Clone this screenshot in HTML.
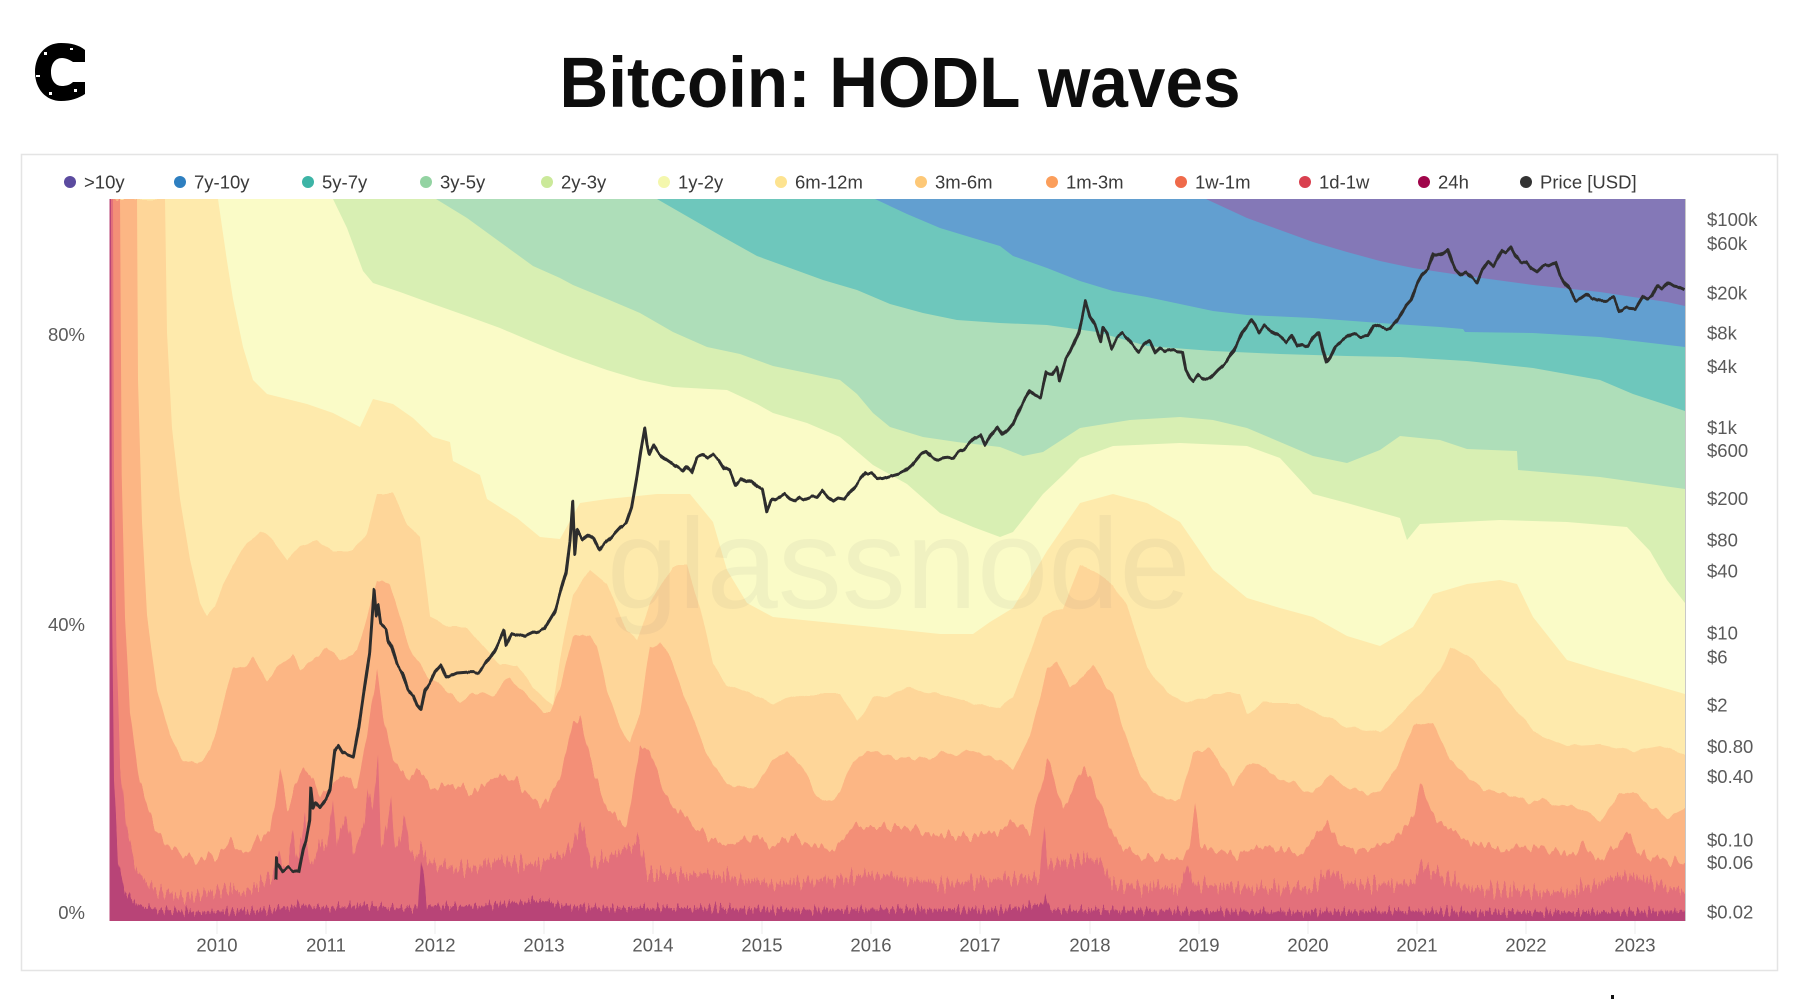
<!DOCTYPE html>
<html><head><meta charset="utf-8"><style>
html,body{margin:0;padding:0;background:#fff;}
svg{display:block;}
text{font-family:"Liberation Sans",Arial,sans-serif;}
</style></head><body>
<svg width="1800" height="999" viewBox="0 0 1800 999" xmlns="http://www.w3.org/2000/svg">
<defs>
<clipPath id="pc"><rect x="109.5" y="199" width="1575.5" height="722"/></clipPath>
<filter id="j1" filterUnits="userSpaceOnUse" x="100" y="180" width="1600" height="790" color-interpolation-filters="sRGB">
<feTurbulence type="fractalNoise" baseFrequency="0.05 0" numOctaves="2" seed="2" result="t"/>
<feColorMatrix in="t" type="matrix" values="0 0 0 0 0.5  0 1 0 0 0  0 0 0 0 0.5  0 0 0 0 1" result="m"/>
<feDisplacementMap in="SourceGraphic" in2="m" scale="10" xChannelSelector="R" yChannelSelector="G"/>
</filter>
<filter id="j2" filterUnits="userSpaceOnUse" x="100" y="180" width="1600" height="790" color-interpolation-filters="sRGB">
<feTurbulence type="fractalNoise" baseFrequency="0.08 0" numOctaves="2" seed="5" result="t"/>
<feColorMatrix in="t" type="matrix" values="0 0 0 0 0.5  0 1 0 0 0  0 0 0 0 0.5  0 0 0 0 1" result="m"/>
<feDisplacementMap in="SourceGraphic" in2="m" scale="16" xChannelSelector="R" yChannelSelector="G"/>
</filter>
<filter id="j3" filterUnits="userSpaceOnUse" x="100" y="180" width="1600" height="790" color-interpolation-filters="sRGB">
<feTurbulence type="fractalNoise" baseFrequency="0.15 0" numOctaves="2" seed="9" result="t"/>
<feColorMatrix in="t" type="matrix" values="0 0 0 0 0.5  0 1 0 0 0  0 0 0 0 0.5  0 0 0 0 1" result="m"/>
<feDisplacementMap in="SourceGraphic" in2="m" scale="24" xChannelSelector="R" yChannelSelector="G"/>
</filter>
<filter id="j4" filterUnits="userSpaceOnUse" x="100" y="180" width="1600" height="790" color-interpolation-filters="sRGB">
<feTurbulence type="fractalNoise" baseFrequency="0.3 0" numOctaves="2" seed="13" result="t"/>
<feColorMatrix in="t" type="matrix" values="0 0 0 0 0.5  0 1 0 0 0  0 0 0 0 0.5  0 0 0 0 1" result="m"/>
<feDisplacementMap in="SourceGraphic" in2="m" scale="40" xChannelSelector="R" yChannelSelector="G"/>
</filter>
<filter id="j5" filterUnits="userSpaceOnUse" x="100" y="180" width="1600" height="790" color-interpolation-filters="sRGB">
<feTurbulence type="fractalNoise" baseFrequency="0.35 0" numOctaves="2" seed="21" result="t"/>
<feColorMatrix in="t" type="matrix" values="0 0 0 0 0.5  0 1 0 0 0  0 0 0 0 0.5  0 0 0 0 1" result="m"/>
<feDisplacementMap in="SourceGraphic" in2="m" scale="24" xChannelSelector="R" yChannelSelector="G"/>
</filter>
<filter id="jp" filterUnits="userSpaceOnUse" x="100" y="180" width="1600" height="790" color-interpolation-filters="sRGB">
<feTurbulence type="fractalNoise" baseFrequency="0.12 0" numOctaves="2" seed="31" result="t"/>
<feColorMatrix in="t" type="matrix" values="0 0 0 0 0.5  0 1 0 0 0  0 0 0 0 0.5  0 0 0 0 1" result="m"/>
<feDisplacementMap in="SourceGraphic" in2="m" scale="6" xChannelSelector="R" yChannelSelector="G"/>
</filter>
</defs>

<!-- logo -->
<path d="M85,62 L85,50 C79,45 71,43 61,43 C45,43 35,56 35,72 C35,89 46,101 61,101 C71,101 79,98 85,94 L85,82 L73,82 C70,85 66,86 62,86 C55,86 51,80 51,72 C51,64 55,58 62,58 C66,58 70,60 73,62 Z" fill="#000"/>
<rect x="44" y="52" width="3" height="3" fill="#fff"/>
<rect x="36" y="75" width="4" height="2" fill="#fff"/>
<rect x="49" y="92" width="3" height="3" fill="#fff"/>
<rect x="74" y="89" width="3" height="3" fill="#fff"/>
<rect x="70" y="48" width="3" height="2" fill="#fff"/>

<!-- title -->
<text x="900" y="107" text-anchor="middle" font-size="71" font-weight="bold" fill="#0d0d0d" textLength="681" lengthAdjust="spacingAndGlyphs">Bitcoin: HODL waves</text>

<!-- panel -->
<rect x="21.5" y="154.5" width="1756" height="816" fill="#fff" stroke="#e4e4e4" stroke-width="1.5"/>

<!-- legend -->
<g font-size="18.5" fill="#3a3a3a">
<circle cx="70" cy="182" r="6" fill="#5b4b9f"/><text x="84" y="188.5">&gt;10y</text>
<circle cx="180" cy="182" r="6" fill="#2e7fc0"/><text x="194" y="188.5">7y-10y</text>
<circle cx="308" cy="182" r="6" fill="#3db4a6"/><text x="322" y="188.5">5y-7y</text>
<circle cx="426" cy="182" r="6" fill="#93d3a2"/><text x="440" y="188.5">3y-5y</text>
<circle cx="547" cy="182" r="6" fill="#cbe99a"/><text x="561" y="188.5">2y-3y</text>
<circle cx="664" cy="182" r="6" fill="#f4f7ad"/><text x="678" y="188.5">1y-2y</text>
<circle cx="781" cy="182" r="6" fill="#fde390"/><text x="795" y="188.5">6m-12m</text>
<circle cx="921" cy="182" r="6" fill="#fdc877"/><text x="935" y="188.5">3m-6m</text>
<circle cx="1052" cy="182" r="6" fill="#fb9e5b"/><text x="1066" y="188.5">1m-3m</text>
<circle cx="1181" cy="182" r="6" fill="#ef6a4a"/><text x="1195" y="188.5">1w-1m</text>
<circle cx="1305" cy="182" r="6" fill="#d9404f"/><text x="1319" y="188.5">1d-1w</text>
<circle cx="1424" cy="182" r="6" fill="#a0054a"/><text x="1438" y="188.5">24h</text>
<circle cx="1526" cy="182" r="6" fill="#333"/><text x="1540" y="188.5">Price [USD]</text>
</g>

<!-- plot -->
<g clip-path="url(#pc)">
<rect x="109.5" y="199" width="1580" height="722" fill="#8478b7"/>
<polygon fill="#629fd0" points="109.5,199 1206,199 1247,218 1280,230 1313,242 1347,252 1380,261 1413,268 1467,276 1533,285 1600,292 1633,297 1667,302 1685,306 1690,306 1690,960 109.5,960"/>
<polygon fill="#6ec7bc" points="109.5,199 875,199 907,214 940,228 973,238 1000,246 1013,256 1047,268 1080,281 1113,291 1147,297 1180,304 1213,311 1247,315 1313,318 1380,323 1440,327 1463,329 1465,332 1533,333 1600,337 1685,347 1690,347 1690,960 109.5,960"/>
<polygon fill="#aedeb9" points="109.5,199 657,199 690,218 723,237 757,256 790,268 823,280 857,290 890,304 923,313 957,320 1000,323 1047,325 1097,332 1147,346 1213,351 1280,354 1347,356 1400,357 1467,361 1533,368 1600,380 1633,394 1685,411 1690,411 1690,960 109.5,960"/>
<polygon fill="#d8efb3" points="109.5,199 436,199 467,218 500,242 533,266 560,278 573,285 607,299 640,313 673,332 707,347 740,354 773,366 807,373 840,380 857,394 873,413 890,427 923,437 957,442 1000,447 1023,456 1043,452 1080,428 1130,420 1180,417 1213,420 1247,428 1280,442 1313,456 1347,463 1380,450 1400,436 1440,440 1467,449 1517,451 1518,470 1600,477 1685,489 1690,489 1690,960 109.5,960"/>
<polygon fill="#fafbc7" points="109.5,199 333,199 347,228 363,271 373,283 400,292 433,304 467,316 500,328 533,342 560,353 573,358 607,370 640,380 673,387 727,390 757,404 773,413 807,423 840,437 873,465 907,484 940,513 973,527 1000,537 1013,532 1043,494 1063,475 1080,458 1113,446 1180,443 1247,446 1280,458 1313,494 1347,503 1400,518 1407,540 1420,524 1500,520 1567,522 1627,527 1650,551 1667,580 1685,603 1690,603 1690,960 109.5,960"/>
<polygon fill="#feeaac" points="109.5,199 218,199 227,261 233,299 243,347 253,380 267,394 287,399 307,404 333,413 360,427 373,399 393,404 413,418 433,437 450,442 453,461 480,475 487,499 517,518 540,537 560,539 580,503 607,499 657,494 690,494 713,522 727,570 747,603 773,617 823,622 873,627 940,634 973,634 990,622 1013,608 1047,551 1080,503 1113,494 1147,503 1180,522 1213,570 1247,598 1280,608 1313,617 1347,636 1380,646 1413,627 1433,594 1467,584 1500,580 1517,584 1533,617 1567,660 1600,670 1633,679 1685,694 1690,694 1690,960 109.5,960"/>
<polygon fill="#fed699" filter="url(#j1)" points="109.5,199 165,199 167,332 172,427 180,499 190,560 200,603 207,617 215,608 223,584 233,565 247,541 260,532 273,541 287,560 300,546 317,541 333,551 353,551 367,532 377,494 393,494 407,522 420,537 430,617 450,627 467,627 483,646 500,665 517,665 533,689 553,703 560,660 573,594 590,570 607,584 627,632 637,641 650,603 673,565 687,565 700,608 713,665 727,684 773,703 807,694 840,694 857,722 873,698 907,689 940,694 973,703 1000,708 1013,698 1043,617 1063,608 1080,565 1093,570 1113,584 1127,608 1147,665 1167,694 1187,703 1213,694 1240,694 1247,712 1263,703 1297,703 1313,712 1347,727 1380,732 1413,703 1440,670 1450,646 1467,656 1500,689 1533,732 1567,746 1600,744 1633,751 1660,746 1685,755 1690,755 1690,960 109.5,960"/>
<polygon fill="#fcb684" filter="url(#j2)" points="109.5,199 137,199 138,380 142,522 147,617 157,689 170,736 183,760 197,765 210,751 223,703 233,670 243,665 253,660 267,679 280,665 293,656 300,670 313,660 327,646 340,660 357,653 367,617 377,580 390,584 400,617 413,656 427,675 440,684 460,703 473,694 493,694 510,679 527,694 543,712 550,712 560,689 573,636 583,632 597,646 607,689 620,727 630,746 640,712 650,646 660,641 673,665 687,703 700,736 713,765 727,784 753,789 773,760 787,751 800,765 813,789 827,803 840,793 853,760 873,751 907,760 940,755 973,751 1000,760 1013,770 1030,736 1047,670 1057,660 1070,689 1080,679 1093,665 1113,694 1133,760 1153,793 1180,803 1193,751 1213,751 1233,784 1253,760 1280,779 1313,793 1330,774 1347,789 1380,793 1400,760 1413,727 1433,722 1450,760 1483,789 1517,798 1550,803 1583,808 1600,822 1617,798 1633,789 1650,808 1667,817 1685,808 1690,808 1690,960 109.5,960"/>
<polygon fill="#f38f77" filter="url(#j3)" points="109.5,199 120,199 121.7,475 125,617 130,712 140,784 153,822 167,846 183,855 200,860 217,855 233,841 243,855 257,841 270,831 280,770 287,808 300,774 310,770 320,798 333,784 343,774 357,789 367,736 377,670 383,713 393,760 407,779 420,770 433,789 453,784 473,793 500,774 520,784 540,808 560,779 573,722 580,717 590,760 607,808 627,827 640,746 650,751 663,789 673,808 683,812 693,827 707,836 727,846 753,836 773,846 793,836 813,846 833,850 853,827 873,827 907,827 940,836 973,836 1000,831 1013,822 1030,831 1040,790 1047,760 1053,775 1063,810 1075,785 1083,767 1092,780 1100,803 1117,843 1140,857 1183,860 1190,840 1195,807 1200,845 1233,855 1267,846 1300,855 1327,822 1340,846 1367,850 1393,841 1413,817 1420,784 1430,808 1440,822 1467,841 1500,850 1533,846 1567,855 1583,846 1600,860 1617,846 1627,831 1640,855 1667,860 1685,865 1690,865 1690,960 109.5,960"/>
<polygon fill="#e3707b" filter="url(#j4)" points="109.5,199 113,199 114,475 116.7,665 120,760 126.7,831 136.7,869 150,888 167,893 187,898 207,893 227,888 243,893 260,884 273,874 280,850 284,874 287,865 293,830 297,862 300,846 305,820 309,860 313,865 320,840 327,846 333,800 337,850 340,831 347,815 353,855 363,827 368,790 373,808 378,760 381,840 383,846 391,800 395,850 400,836 405,815 409,850 417,855 422,850 433,865 467,869 500,860 533,865 560,855 573,846 580,822 593,865 640,841 647,874 673,874 707,874 773,884 840,879 873,874 940,884 1000,879 1040,877 1044,827 1048,865 1080,858 1100,860 1113,885 1180,888 1187,865 1193,884 1247,888 1313,888 1330,869 1347,884 1413,884 1420,865 1467,888 1567,893 1627,874 1685,893 1690,893 1690,960 109.5,960"/>
<polygon fill="#b84477" filter="url(#j5)" points="109.5,199 111,199 112,600 114,780 118,860 125,893 140,906 160,910 200,912 270,910 300,905 330,908 360,905 400,908 418,908 421,860 424,875 427,906 480,906 540,900 560,905 600,908 700,908 800,910 900,909 1000,910 1043,904 1045,893 1050,910 1100,910 1200,911 1300,912 1400,911 1500,912 1600,912 1685,911 1690,911 1690,960 109.5,960"/>

<text x="607" y="608" font-size="128" fill="#777" fill-opacity="0.07">glassnode</text>

<polyline filter="url(#jp)" fill="none" stroke="#2d2d2d" stroke-width="3" stroke-linejoin="round" points="275.9,879.8 276.5,858 277,866 278.1,864.7 282.5,871.7 287.9,868.1 293,871 298.8,871.7 303.2,848.7 306,840 309.7,819.9 310.8,787.6 313,807.6 315.2,802.5 320,808 326.1,799.4 330,790 334.8,750.1 338.1,745.3 342.5,752.6 348,755 353.4,757.1 358.8,727.1 364.3,689.1 369.7,652 372,620 374.1,589.8 376.3,615.5 378,605 380.7,623.7 386.1,628.5 388,640 391.6,646.6 397,664.9 402.5,673 408,690 413.4,696 417,705 421,709.9 425,690 429.7,683.1 435.2,671.3 440.7,665 446.1,677.8 457,673 468,672.1 478.8,672.1 489.8,657.9 495,650 500.7,637.7 504,630.1 506.1,645 511.6,633.7 522.5,637 533.4,631.9 544.3,629 555.2,610.8 566.1,572.4 570,540 572.7,501.1 574.8,554.5 577,530.3 582,540 587.9,534.2 593.4,538.5 598.9,550 604.3,543.3 609.8,538.5 620.7,526.7 626.1,523.4 631.6,507.4 637,476.3 641,450 644.7,428.8 647,445 649,454.5 653.4,445.1 658,452 664.3,458.1 670,462 675.2,466.2 682.9,471 686.1,466.2 691.6,472 697,456.6 702.5,454.5 707.9,458.1 713,455 718.9,459.6 724,468 729.8,471 735.2,484.9 740.7,478.6 746,483 751.6,479.8 757,486 762.5,489.2 766.9,512.1 771.3,501.1 778,498 784.3,493.9 790,499 795.2,501.1 800,497 806.1,499.2 812,497 817.1,497.4 822.5,490.7 828,497 833.4,501.1 838,498 844.3,499.2 850,492 855.2,486.3 860,480 866.1,473 871.6,473 877,478 882.5,478.6 893.4,475.1 904.3,472 912,465 920.7,454.5 926.2,451.1 931.6,457.3 937.1,459.6 945,458 953.4,457.3 958,452 964.3,449.2 970,443 975.2,437.4 980.7,435.1 985.1,445.1 991,435 997.1,426.9 1002.5,435.1 1008,430 1013.4,423.3 1019,410 1024.3,399.7 1029.8,390.5 1035,395 1040.7,397.7 1046.2,372.9 1052,375 1057.1,367.6 1059.3,380.2 1065.8,358.5 1070,352 1073.4,344.6 1078.9,331.7 1082,318 1085.4,301.7 1089.8,316.6 1095,325 1100.7,341.7 1102.9,327.4 1107,333 1111.6,347.7 1117,338 1122.5,334 1128,339 1133,345 1138.9,351.1 1144,345 1149.8,340.6 1155.3,352.5 1160,348 1166.2,351.1 1175,350 1182.5,352.5 1185.8,370 1190,378 1193.4,381.5 1198.9,375.2 1204,378 1209.8,378.9 1218,370 1226.2,362.8 1234,350 1242.5,331.7 1251.2,319.9 1255,325 1258.9,332.6 1264.4,325.4 1270,330 1275.3,334 1281,337 1286.2,341.7 1291.6,335.5 1297.1,346.5 1302,344 1308,346.5 1313,338 1318.9,331.7 1323,350 1326.5,362.8 1330,358 1335.3,346.5 1343,340 1351.6,334 1360,336 1368,335.5 1373.5,325.4 1380,327 1389.8,328.7 1397.5,319.9 1406.2,305.3 1411,300 1417.1,283.9 1422,275 1428,269.5 1433.5,253.6 1440,255 1447.7,249.1 1452,262 1455.3,269.5 1460.7,275.5 1466,272 1471.7,278.1 1477.1,282.4 1482,270 1488,261.3 1493.5,266.2 1498,258 1502.2,249.8 1506,252 1510.9,247 1515,255 1520.7,262.2 1526.2,262.2 1531,268 1537.1,271.8 1543,266 1548,266.2 1555.7,262.2 1560,275 1564.4,282.4 1570,290 1575.3,300.6 1581,298 1586.2,294.3 1591.7,298.4 1600,300 1608,300.6 1614,298 1618.9,310.6 1624,308 1629.8,308.4 1635.3,308.9 1642.9,296.3 1647,299 1651.7,296.3 1657.2,285.5 1662,289 1668.1,282.4 1674,286 1679,287.1 1684.5,289.6"/>
</g>
<line x1="1685.5" y1="199" x2="1685.5" y2="921" stroke="#c8c8c8" stroke-width="1"/>

<!-- x ticks -->
<g stroke="#ececec" stroke-width="1">
<line x1="217" y1="921" x2="217" y2="934"/><line x1="326" y1="921" x2="326" y2="934"/><line x1="435" y1="921" x2="435" y2="934"/><line x1="544" y1="921" x2="544" y2="934"/><line x1="653" y1="921" x2="653" y2="934"/><line x1="762" y1="921" x2="762" y2="934"/><line x1="871" y1="921" x2="871" y2="934"/><line x1="980" y1="921" x2="980" y2="934"/><line x1="1090" y1="921" x2="1090" y2="934"/><line x1="1199" y1="921" x2="1199" y2="934"/><line x1="1308" y1="921" x2="1308" y2="934"/><line x1="1417" y1="921" x2="1417" y2="934"/><line x1="1526" y1="921" x2="1526" y2="934"/><line x1="1635" y1="921" x2="1635" y2="934"/>
</g>

<!-- axis labels -->
<g font-size="18.5" fill="#5a5a5a">
<g text-anchor="middle">
<text x="217" y="951.5">2010</text><text x="326" y="951.5">2011</text><text x="435" y="951.5">2012</text><text x="544" y="951.5">2013</text><text x="653" y="951.5">2014</text><text x="762" y="951.5">2015</text><text x="871" y="951.5">2016</text><text x="980" y="951.5">2017</text><text x="1090" y="951.5">2018</text><text x="1199" y="951.5">2019</text><text x="1308" y="951.5">2020</text><text x="1417" y="951.5">2021</text><text x="1526" y="951.5">2022</text><text x="1635" y="951.5">2023</text>
</g>
<g text-anchor="end">
<text x="85" y="341">80%</text><text x="85" y="631">40%</text><text x="85" y="919">0%</text>
</g>
<g>
<text x="1707" y="226">$100k</text>
<text x="1707" y="250">$60k</text>
<text x="1707" y="299.5">$20k</text>
<text x="1707" y="339.5">$8k</text>
<text x="1707" y="373">$4k</text>
<text x="1707" y="434">$1k</text>
<text x="1707" y="457">$600</text>
<text x="1707" y="505">$200</text>
<text x="1707" y="546.5">$80</text>
<text x="1707" y="577.5">$40</text>
<text x="1707" y="639.5">$10</text>
<text x="1707" y="663.5">$6</text>
<text x="1707" y="711.5">$2</text>
<text x="1707" y="753">$0.80</text>
<text x="1707" y="783">$0.40</text>
<text x="1707" y="846.5">$0.10</text>
<text x="1707" y="869">$0.06</text>
<text x="1707" y="918.5">$0.02</text>
</g>
</g>
<rect x="1611" y="995" width="3" height="4" fill="#111"/>
</svg>
</body></html>
